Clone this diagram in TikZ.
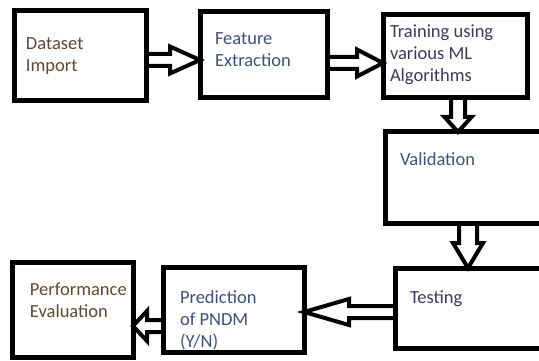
\documentclass[tikz,border=0pt]{standalone}
\usepackage{fontspec}
\setmainfont{Carlito}
\usetikzlibrary{calc}
\definecolor{tbrown}{HTML}{5E4A30}
\definecolor{tblue}{HTML}{3E5080}
\definecolor{tpurple}{HTML}{403760}
\tikzset{
  box/.style={draw, line width=5pt, rectangle, inner sep=0pt, outer sep=0pt},
  txt/.style={inner sep=0pt, outer sep=0pt, anchor=base west, align=left,
    font=\fontsize{18.5}{22}\selectfont},
  hollow/.style n args={3}{draw, line width=4pt, line join=miter, miter limit=10,
    to path={let \p1=(\tikztostart), \p2=(\tikztotarget), \p3=($(\p2)!#3!(\p1)$) in
      ($(\p1)!#1!90:(\p2)$) -- ($(\p3)!#1!90:(\p2)$) -- ($(\p3)!#2!90:(\p2)$) -- (\p2)
      -- ($(\p3)!#2!-90:(\p2)$) -- ($(\p3)!#1!-90:(\p2)$) -- ($(\p1)!#1!-90:(\p2)$) -- cycle}}
}
\begin{document}
\begin{tikzpicture}[x=1pt, y=-1pt]
\useasboundingbox (0,0) rectangle (539,361);
\clip (0,0) rectangle (539,361);
% boxes
\node[box, minimum width=132pt, minimum height=90pt] (b1) at (80,56) {};
\node[box, minimum width=127pt, minimum height=86pt] (b2) at (263.5,55) {};
\node[box, minimum width=144pt, minimum height=83pt] (b3) at (455,56.5) {};
\node[box, minimum width=175pt, minimum height=91pt] (b4) at (472.5,177.5) {};
\node[box, minimum width=165pt, minimum height=80pt] (b5) at (477.5,308) {};
\node[box, minimum width=141pt, minimum height=85pt] (b6) at (233.5,309.5) {};
\node[box, minimum width=121pt, minimum height=95pt] (b7) at (72.5,309.5) {};
% texts (anchored at the baseline of the last line)
\node[txt, text=tbrown] (t1) at (26,72) {Dataset\\Import};
\node[txt, text=tblue] (t2) at (215,67) {Feature\\Extraction};
\node[txt, text=tpurple] (t3) at (390,82) {Training using\\various ML\\Algorithms};
\node[txt, text=tblue] (t4) at (400,165) {Validation};
\node[txt, text=tpurple] (t5) at (410,303) {Testing};
\node[txt, text=tblue] (t6) at (180,347) {Prediction\\of PNDM\\(Y/N)};
\node[txt, text=tbrown] (t7) at (30,317) {Performance\\Evaluation};
% arrows
\draw[hollow={6pt}{13.5pt}{30pt}] (b1.east |- 0,60) to (b2.west |- 0,60);
\draw[hollow={6pt}{13.5pt}{26pt}] (b2.east |- 0,63) to (b3.west |- 0,63);
\draw[hollow={7pt}{13.5pt}{15pt}] (b3.south -| 458,0) to (b4.north -| 458,0);
\draw[hollow={9pt}{15pt}{25pt}] (b4.south -| 468,0) to (b5.north -| 468,0);
\draw[hollow={6pt}{13pt}{45pt}] (b5.west |- 0,312) to (b6.east |- 0,312);
\draw[hollow={6pt}{15pt}{14pt}] (b6.west |- 0,326) to (b7.east |- 0,326);
\end{tikzpicture}
\end{document}
